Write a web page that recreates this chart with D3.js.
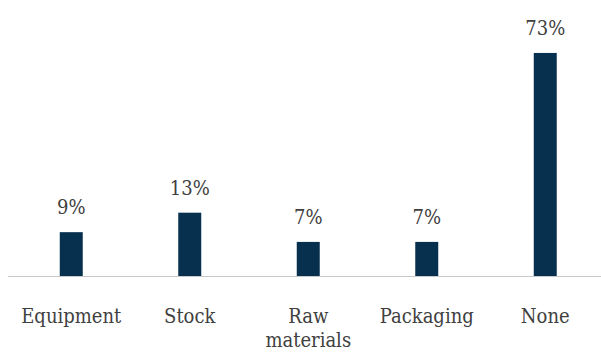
<!DOCTYPE html>
<html><head><meta charset="utf-8">
<script src="https://cdn.jsdelivr.net/npm/d3@7/dist/d3.min.js"></script>
<style>html,body{margin:0;padding:0;background:#fff;} text{font-family:'DejaVu Serif Condensed','DejaVu Serif',serif;font-stretch:condensed;}</style>
</head><body>
<svg id="c" width="601" height="354"></svg>
<script>
const categories = ["Equipment", "Stock", "Raw materials", "Packaging", "None"];
// bar heights as drawn in the picture (the "None" bar is drawn shorter than its label)
const barValues = [9, 13, 7, 7, 45.8];
const valueLabels = ["9%", "13%", "7%", "7%", "73%"];
const categoryLines = [["Equipment"], ["Stock"], ["Raw", "materials"], ["Packaging"], ["None"]];

const svg = d3.select("#c");
const baseY = 276;
const x = d3.scaleBand().domain(categories).range([12, 604.5]).paddingInner(0.806).paddingOuter(0.403);
const y = d3.scaleLinear().domain([0, 50]).range([baseY, baseY - 243.5]);

svg.append("line").attr("x1", 8).attr("x2", 601).attr("y1", baseY + 0.5).attr("y2", baseY + 0.5)
  .attr("stroke", "#c8c8c8").attr("stroke-width", 1);

svg.selectAll("rect.bar").data(categories).join("rect").attr("class", "bar")
  .attr("x", d => x(d)).attr("width", x.bandwidth())
  .attr("y", (d, i) => y(barValues[i])).attr("height", (d, i) => baseY - y(barValues[i]))
  .attr("fill", "#07304f");

svg.selectAll("text.val").data(categories).join("text").attr("class", "val")
  .attr("x", d => x(d) + x.bandwidth() / 2)
  .attr("y", (d, i) => y(barValues[i]) - 18)
  .attr("text-anchor", "middle")
  .attr("font-size", 20)
  .attr("fill", "#404040")
  .text((d, i) => valueLabels[i]);

const cat = svg.selectAll("text.cat").data(categories).join("text").attr("class", "cat")
  .attr("x", d => x(d) + x.bandwidth() / 2)
  .attr("y", 323)
  .attr("text-anchor", "middle")
  .attr("font-size", 20)
  .attr("fill", "#404040");
cat.each(function(d, i) {
  const t = d3.select(this);
  categoryLines[i].forEach((ln, j) => {
    t.append("tspan").attr("x", x(d) + x.bandwidth() / 2).attr("dy", j === 0 ? 0 : 24).text(ln);
  });
});
</script>
</body></html>
